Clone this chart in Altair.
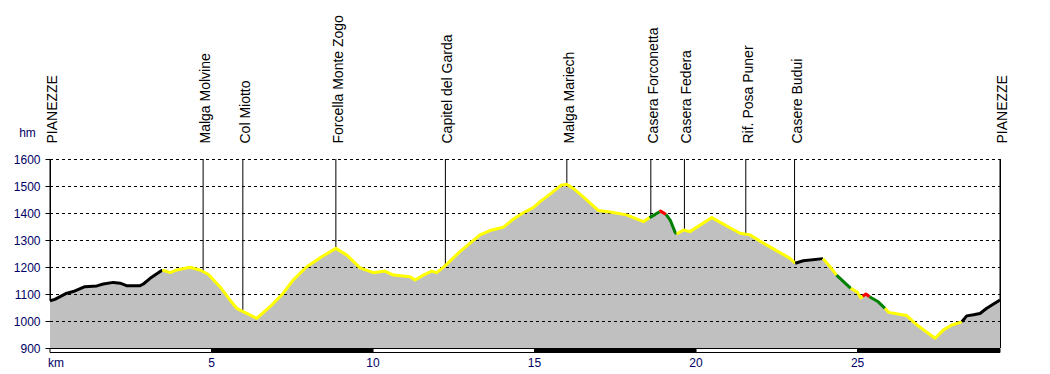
import altair as alt
import pandas as pd

# Elevation profile (km, metres)
km = [0.0, 0.15, 0.52, 0.72, 1.08, 1.45, 1.65, 1.96, 2.17, 2.37, 2.79, 2.89, 3.10, 3.48,
      3.72, 3.92, 4.33, 4.64, 4.90, 5.26, 5.57, 5.78, 6.09, 6.40, 6.81, 7.22, 7.53, 7.95,
      8.41, 8.85, 9.19, 9.60, 10.01, 10.37, 10.63, 11.15, 11.30, 11.56, 11.82, 11.97, 12.23,
      12.69, 13.31, 13.62, 14.03, 14.34, 14.65, 14.96, 15.17, 15.48, 15.84, 16.00, 16.20,
      16.51, 16.98, 17.34, 17.85, 18.37, 18.56, 18.74, 18.87, 18.90, 19.07, 19.20, 19.35,
      19.40, 19.61, 19.81, 20.49, 20.95, 21.36, 21.67, 22.19, 22.91, 23.07, 23.32, 23.93,
      24.15, 24.35, 24.79, 25.00, 25.10, 25.16, 25.26, 25.37, 25.64, 25.85, 25.96, 26.52,
      26.84, 27.40, 27.66, 27.92, 28.23, 28.38, 28.59, 28.79, 29.00, 29.41]
elev = [1075, 1080, 1103, 1109, 1127, 1130, 1137, 1143, 1140, 1131, 1131, 1137, 1158, 1189,
        1179, 1189, 1199, 1189, 1173, 1127, 1078, 1047, 1028, 1010, 1053, 1103, 1152, 1201,
        1238, 1269, 1244, 1197, 1179, 1185, 1170, 1164, 1152, 1170, 1185, 1179, 1204,
        1257, 1319, 1335, 1347, 1377, 1401, 1420, 1442, 1470, 1504, 1506, 1491,
        1460, 1409, 1404, 1393, 1368, 1383, 1395, 1405, 1407, 1395, 1374, 1329,
        1322, 1337, 1331, 1383, 1352, 1325, 1319, 1281, 1232, 1214, 1223, 1231,
        1201, 1170, 1121, 1106, 1085, 1092, 1100, 1090, 1071, 1047, 1032, 1020,
        985, 936, 967, 985, 997, 1019, 1023, 1028, 1047, 1078]

# Coloured stretches of the track
seg_breaks = [0.0, 3.48, 18.56, 18.87, 19.07, 19.40, 23.07, 23.93, 24.35, 24.79, 25.16,
              25.37, 25.85, 28.23, 29.41]
seg_colors = ["#000000", "#FFFF00", "#008000", "#FF0000", "#008000", "#FFFF00", "#000000",
              "#FFFF00", "#008000", "#FFFF00", "#FF0000", "#008000", "#FFFF00", "#000000"]

# Waypoints
wp_names = ["PIANEZZE", "Malga Molvine", "Col Miotto", "Forcella Monte Zogo",
            "Capitel del Garda", "Malga Mariech", "Casera Forconetta", "Casera Federa",
            "Rif. Posa Puner", "Casere Budui", "PIANEZZE"]
wp_km = [0.0, 4.74, 5.97, 8.85, 12.24, 16.0, 18.6, 19.64, 21.54, 23.05, 29.41]
wp_elev = [1075, 1183, 1035, 1269, 1204, 1506, 1384, 1337, 1322, 1216, 1078]

# Axis values
grid_levels = [1000, 1100, 1200, 1300, 1400, 1500, 1600]
y_ticks = [900, 1000, 1100, 1200, 1300, 1400, 1500, 1600]
x_label_km = [5, 10, 15, 20, 25]
x_label_txt = ["5", "10", "15", "20", "25"]
bar_start = [0, 5, 10, 15, 20, 25]
bar_end = [5, 10, 15, 20, 25, 29.41]
bar_fill = ["#FFFFFF", "#000000", "#FFFFFF", "#000000", "#FFFFFF", "#000000"]

KM_MAX = 29.41
W, H = 950, 189
NAVY = "#000066"
FONT = "Liberation Sans"

prof = pd.DataFrame({"km": km, "elev": elev, "base": [900] * len(km)})

rows = []
for i, c in enumerate(seg_colors):
    a, b = seg_breaks[i], seg_breaks[i + 1]
    for k, e in zip(km, elev):
        if a - 1e-9 <= k <= b + 1e-9:
            rows.append({"km": k, "elev": e, "seg": i, "color": c})
line_df = pd.DataFrame(rows)

wp_df = pd.DataFrame({"name": wp_names, "km": wp_km, "elev": wp_elev, "top": [1600] * len(wp_km)})
grid_df = pd.DataFrame({"lvl": grid_levels})
bar_df = pd.DataFrame({"s": bar_start, "e": bar_end, "fill": bar_fill})
xl_df = pd.DataFrame({"km": x_label_km, "txt": x_label_txt})
km_df = pd.DataFrame({"km": [0.0], "txt": ["km"]})

xs = alt.Scale(domain=[0, KM_MAX], nice=False, zero=False)
ys = alt.Scale(domain=[900, 1600], nice=False, zero=False)

yaxis = alt.Axis(
    values=y_ticks, format="d", grid=False, tickSize=5, tickColor="#000000", domainColor="#000000",
    labelFontSize=12, labelColor=NAVY, labelFont=FONT, labelPadding=5,
    title="hm", titleAngle=0, titleX=-23, titleY=-27, titleFontSize=12,
    titleFontWeight="normal", titleColor=NAVY, titleFont=FONT,
    titleAlign="center", titleBaseline="middle")

area = alt.Chart(prof).mark_area(color="#C0C0C0", opacity=1).encode(
    x=alt.X("km:Q", scale=xs, axis=None),
    y=alt.Y("elev:Q", scale=ys, axis=yaxis),
    y2=alt.Y2("base:Q"),
)

grid = alt.Chart(grid_df).mark_rule(color="#000000", strokeWidth=1, strokeDash=[3, 3], yOffset=0.5).encode(
    y=alt.Y("lvl:Q", scale=ys, axis=yaxis),
    x=alt.value(0), x2=alt.value(W),
)

rules = alt.Chart(wp_df).mark_rule(color="#000000", strokeWidth=1).encode(
    x=alt.X("km:Q", scale=xs, axis=None),
    y=alt.Y("top:Q", scale=ys, axis=yaxis),
    y2="elev:Q",
)

track = alt.Chart(line_df).mark_line(strokeWidth=3, strokeJoin="round", strokeCap="butt").encode(
    x=alt.X("km:Q", scale=xs, axis=None),
    y=alt.Y("elev:Q", scale=ys, axis=yaxis),
    color=alt.Color("color:N", scale=None),
    detail="seg:N",
    order="km:Q",
)

labels = alt.Chart(wp_df).mark_text(
    angle=270, align="left", baseline="middle", dy=3, fontSize=14, font=FONT, color="#000000"
).encode(
    x=alt.X("km:Q", scale=xs, axis=None),
    y=alt.value(-15.5),
    text="name:N",
)

right_frame = alt.Chart(km_df).mark_rule(color="#000000", strokeWidth=1).encode(
    x=alt.value(W + 0.5), y=alt.value(0), y2=alt.value(H)
)

bar = alt.Chart(bar_df).mark_rect(stroke="#000000", strokeWidth=1).encode(
    x=alt.X("s:Q", scale=xs, axis=None),
    x2="e:Q",
    y=alt.value(H + 0.5), y2=alt.value(H + 4.5),
    fill=alt.Fill("fill:N", scale=None),
)

xlabels = alt.Chart(xl_df).mark_text(
    align="center", baseline="middle", fontSize=12, font=FONT, color=NAVY
).encode(
    x=alt.X("km:Q", scale=xs, axis=None),
    y=alt.value(H + 15),
    text="txt:N",
)

kmlabel = alt.Chart(km_df).mark_text(
    align="left", baseline="middle", fontSize=12, font=FONT, color=NAVY, dx=-2
).encode(
    x=alt.X("km:Q", scale=xs, axis=None),
    y=alt.value(H + 15),
    text="txt:N",
)

chart = alt.layer(area, grid, rules, track, right_frame, bar, labels, xlabels, kmlabel).properties(
    width=W, height=H,
    autosize=alt.AutoSizeParams(type="none"),
    padding={"left": 42, "top": 151, "right": 30, "bottom": 25},
    background="#FFFFFF",
).configure_view(stroke=None)

chart.save("out.html", embed_options={"renderer": "svg", "actions": False})
